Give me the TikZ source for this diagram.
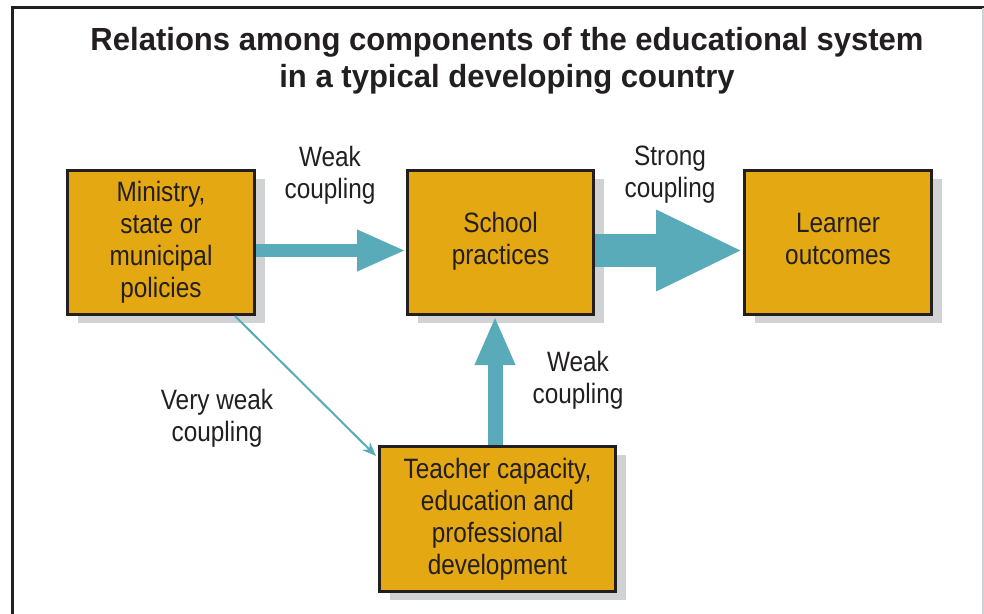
\documentclass[tikz,border=0pt]{standalone}
\usepackage{fontspec}
\setmainfont{Liberation Sans}[FakeStretch=0.87]
\newfontfamily\titlefont{Liberation Sans}[FakeStretch=0.97]
\usetikzlibrary{arrows.meta,shadows}
\definecolor{boxgold}{HTML}{E4A813}
\definecolor{shadegray}{HTML}{D1D2D4}
\definecolor{coupleteal}{HTML}{5AABBA}
\definecolor{inkdark}{HTML}{231F20}

\begin{document}
\begin{tikzpicture}[x=0.5pt,y=-0.5pt,
  comp/.style={draw=inkdark, line width=1.5pt, fill=boxgold, text=inkdark,
    align=center, inner sep=0pt, font=\fontsize{14}{16}\selectfont,
    drop shadow={shadow xshift=5.25pt, shadow yshift=-4.25pt,
      fill=shadegray, draw=none, opacity=1}},
  lbl/.style={align=center, text=inkdark, font=\fontsize{14}{16}\selectfont},
  couple/.style={draw=coupleteal, fill=coupleteal}]
  \useasboundingbox (0,0) rectangle (984,614);
  % frame
  \draw[inkdark, line width=1.5pt] (12,614) -- (12,8) -- (984,8);
  \draw[shadegray, line width=0.6pt] (983,8) -- (983,614);
  \node[align=center, text=inkdark, font=\titlefont\bfseries\fontsize{16}{18.5}\selectfont]
    (head) at (507,61) {Relations among components of the educational system\\in a typical developing country};

  \node[comp, minimum width=93.5pt, minimum height=72pt] (mini) at (161,242.5)
    {Ministry,\\state or\\municipal\\policies};
  \node[comp, minimum width=93pt, minimum height=72pt] (school) at (500.5,242.5)
    {School\\practices\\[-12pt]};
  \node[comp, minimum width=93.5pt, minimum height=72pt] (learn) at (838,242.5)
    {Learner\\outcomes\\[-12pt]};
  \node[comp, minimum width=118pt, minimum height=72.5pt] (teach) at (497.5,519)
    {Teacher capacity,\\education and\\professional\\development};

  \node[lbl] (wk1) at (330,175) {Weak\\coupling};
  \node[lbl] (strong) at (670,175) {Strong\\coupling};
  \node[lbl] (wk2) at (578,380) {Weak\\coupling};
  \node[lbl] (vwk) at (217,418) {Very weak\\coupling};

  % couplings
  \draw[couple, line width=6.5pt, -{Triangle[length=24.5pt, width=19pt]}]
    ([yshift=-4pt]mini.east) -- ([yshift=-4pt]school.west);
  \draw[couple, line width=16.5pt, -{Triangle[length=43.5pt, width=37.5pt]}]
    ([yshift=-4pt]school.east) -- ([yshift=-4pt]learn.west);
  \draw[couple, line width=7.5pt, -{Triangle[length=24.5pt, width=18.5pt]}]
    ([xshift=-1.25pt]teach.north) -- ([xshift=-1.25pt]teach.north |- school.south);
  \draw[couple, line width=1pt, -{Stealth[length=7pt, width=5.5pt]}]
    ([xshift=-10.5pt]mini.south east) -- ([xshift=-1pt, yshift=-5.5pt]teach.north west);
\end{tikzpicture}
\end{document}
